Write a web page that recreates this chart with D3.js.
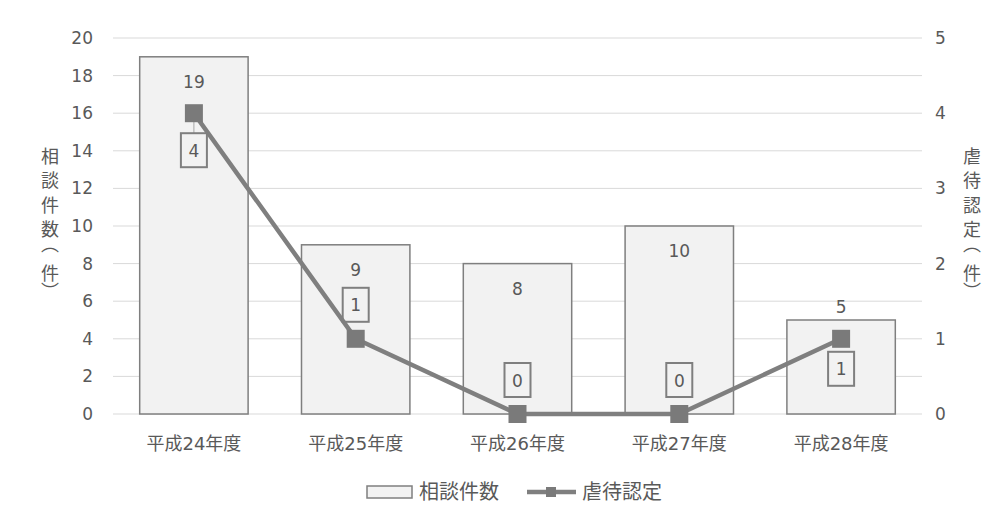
<!DOCTYPE html>
<html>
<head>
<meta charset="utf-8">
<script src="https://cdn.jsdelivr.net/npm/d3@7/dist/d3.min.js"></script>
<style>
  html, body { margin: 0; padding: 0; background: #fff; }
  svg { display: block; }
  text { font-family: "DejaVu Sans", "Noto Sans CJK JP", sans-serif; fill: #595959; }
</style>
</head>
<body>
<svg id="chart" width="1003" height="519"></svg>
<script>
// Fiscal years and counts
const categories = ["平成24年度", "平成25年度", "平成26年度", "平成27年度", "平成28年度"];
const consultations = [19, 9, 8, 10, 5];   // 相談件数 (left axis)
const abuseConfirmed = [4, 1, 0, 0, 1];    // 虐待認定 (right axis)
const leftTicks = [0, 2, 4, 6, 8, 10, 12, 14, 16, 18, 20];
const rightTicks = [0, 1, 2, 3, 4, 5];
const leftTitle = ["相", "談", "件", "数", "（", "件", "）"];
const rightTitle = ["虐", "待", "認", "定", "（", "件", "）"];

// Label placement: offset of the line's value box from its marker, and bar label inside/outside
const lineLabelOffset = [37, -34, -34, -34, 30];
const barLabelInside = [true, true, true, true, false];
// vertical stacking of axis-title characters (brackets take less room)
const titleStep = [0, 24.5, 49, 73.5, 88, 117, 135];

const svg = d3.select("#chart");
const W = 1003, H = 519;
const m = { left: 113, right: 81, top: 38, bottom: 105 };
const x0 = m.left, x1 = W - m.right, yTop = m.top, yBot = H - m.bottom;

const x = d3.scaleBand().domain(categories).range([x0, x1]).paddingInner(0.33).paddingOuter(0.165);
const xc = d3.scaleBand().domain(categories).range([x0, x1]);
const yL = d3.scaleLinear().domain([0, 20]).range([yBot, yTop]);
const yR = d3.scaleLinear().domain([0, 5]).range([yBot, yTop]);

const grey = "#7f7f7f";
const numSize = "17px";
const fontStack = "'DejaVu Sans', 'Noto Sans CJK JP', sans-serif";

// gridlines
svg.append("g").selectAll("line").data(leftTicks).join("line")
  .attr("x1", x0).attr("x2", x1)
  .attr("y1", d => yL(d)).attr("y2", d => yL(d))
  .attr("stroke", "#d9d9d9").attr("stroke-width", 1);

// left axis
const axL = svg.append("g").attr("transform", `translate(${x0 - 20},0)`)
  .call(d3.axisLeft(yL).tickValues(leftTicks).tickFormat(d3.format("d")).tickSize(0).tickPadding(0));
axL.select(".domain").remove();
axL.selectAll("text").style("font-size", numSize).attr("fill", "#595959").style("font-family", fontStack);

// right axis
const axR = svg.append("g").attr("transform", `translate(${x1 + 13},0)`)
  .call(d3.axisRight(yR).tickValues(rightTicks).tickFormat(d3.format("d")).tickSize(0).tickPadding(0));
axR.select(".domain").remove();
axR.selectAll("text").style("font-size", numSize).attr("fill", "#595959").style("font-family", fontStack);

// bars
svg.append("g").selectAll("rect").data(consultations).join("rect")
  .attr("x", (d, i) => x(categories[i]))
  .attr("y", d => yL(d))
  .attr("width", x.bandwidth())
  .attr("height", d => yBot - yL(d))
  .attr("fill", "#f2f2f2").attr("stroke", grey).attr("stroke-width", 1.5);

// bar value labels
svg.append("g").selectAll("text").data(consultations).join("text")
  .attr("x", (d, i) => xc(categories[i]) + xc.bandwidth() / 2)
  .attr("y", (d, i) => barLabelInside[i] ? yL(d) + 31 : yL(d) - 7)
  .attr("text-anchor", "middle")
  .style("font-size", numSize)
  .text(d => d);

// line series
const cx = (i) => xc(categories[i]) + xc.bandwidth() / 2;
const line = d3.line().x((d, i) => cx(i)).y(d => yR(d));
svg.append("path").datum(abuseConfirmed)
  .attr("d", line).attr("fill", "none")
  .attr("stroke", grey).attr("stroke-width", 4.5).attr("stroke-linejoin", "round");

// line value labels with boxes
const boxW = 26, boxH = 34;
const lbl = svg.append("g");
abuseConfirmed.forEach((d, i) => {
  const px = cx(i), py = yR(d), cy = py + lineLabelOffset[i];
  if (i === 0) {
    lbl.append("line").attr("x1", px).attr("x2", px)
      .attr("y1", py).attr("y2", cy - boxH / 2)
      .attr("stroke", "#a6a6a6").attr("stroke-width", 1);
  }
  lbl.append("rect").attr("x", px - boxW / 2).attr("y", cy - boxH / 2)
    .attr("width", boxW).attr("height", boxH)
    .attr("fill", "none").attr("stroke", grey).attr("stroke-width", 2);
  lbl.append("text").attr("x", px).attr("y", cy + 6.5)
    .attr("text-anchor", "middle").style("font-size", numSize).text(d);
});

// markers
svg.append("g").selectAll("rect").data(abuseConfirmed).join("rect")
  .attr("x", (d, i) => cx(i) - 9).attr("y", d => yR(d) - 9)
  .attr("width", 18).attr("height", 18).attr("fill", "#7a7a7a");

// category axis labels
svg.append("g").selectAll("text").data(categories).join("text")
  .attr("x", (d, i) => cx(i)).attr("y", 450)
  .attr("text-anchor", "middle").style("font-size", "18px")
  .text(d => d);

// vertical axis titles, one character per step
const vtitle = (tx, ty, chars) => svg.append("g").selectAll("text").data(chars).join("text")
  .attr("x", tx).attr("y", (d, i) => ty + titleStep[i])
  .attr("text-anchor", "middle")
  .attr("dominant-baseline", "central")
  .style("writing-mode", "vertical-rl")
  .style("font-family", "'Noto Sans CJK JP', sans-serif")
  .style("font-size", "18px")
  .text(d => d);
vtitle(50, 156, leftTitle);
vtitle(972, 156, rightTitle);

// legend
const lg = svg.append("g");
lg.append("rect").attr("x", 367).attr("y", 486).attr("width", 45).attr("height", 12)
  .attr("fill", "#f2f2f2").attr("stroke", grey).attr("stroke-width", 1.5);
lg.append("text").attr("x", 419).attr("y", 499).style("font-size", "20px").text("相談件数");
lg.append("line").attr("x1", 527).attr("x2", 576).attr("y1", 492).attr("y2", 492)
  .attr("stroke", grey).attr("stroke-width", 4.5);
lg.append("rect").attr("x", 546).attr("y", 487).attr("width", 10).attr("height", 10).attr("fill", "#7a7a7a");
lg.append("text").attr("x", 582).attr("y", 499).style("font-size", "20px").text("虐待認定");
</script>
</body>
</html>
